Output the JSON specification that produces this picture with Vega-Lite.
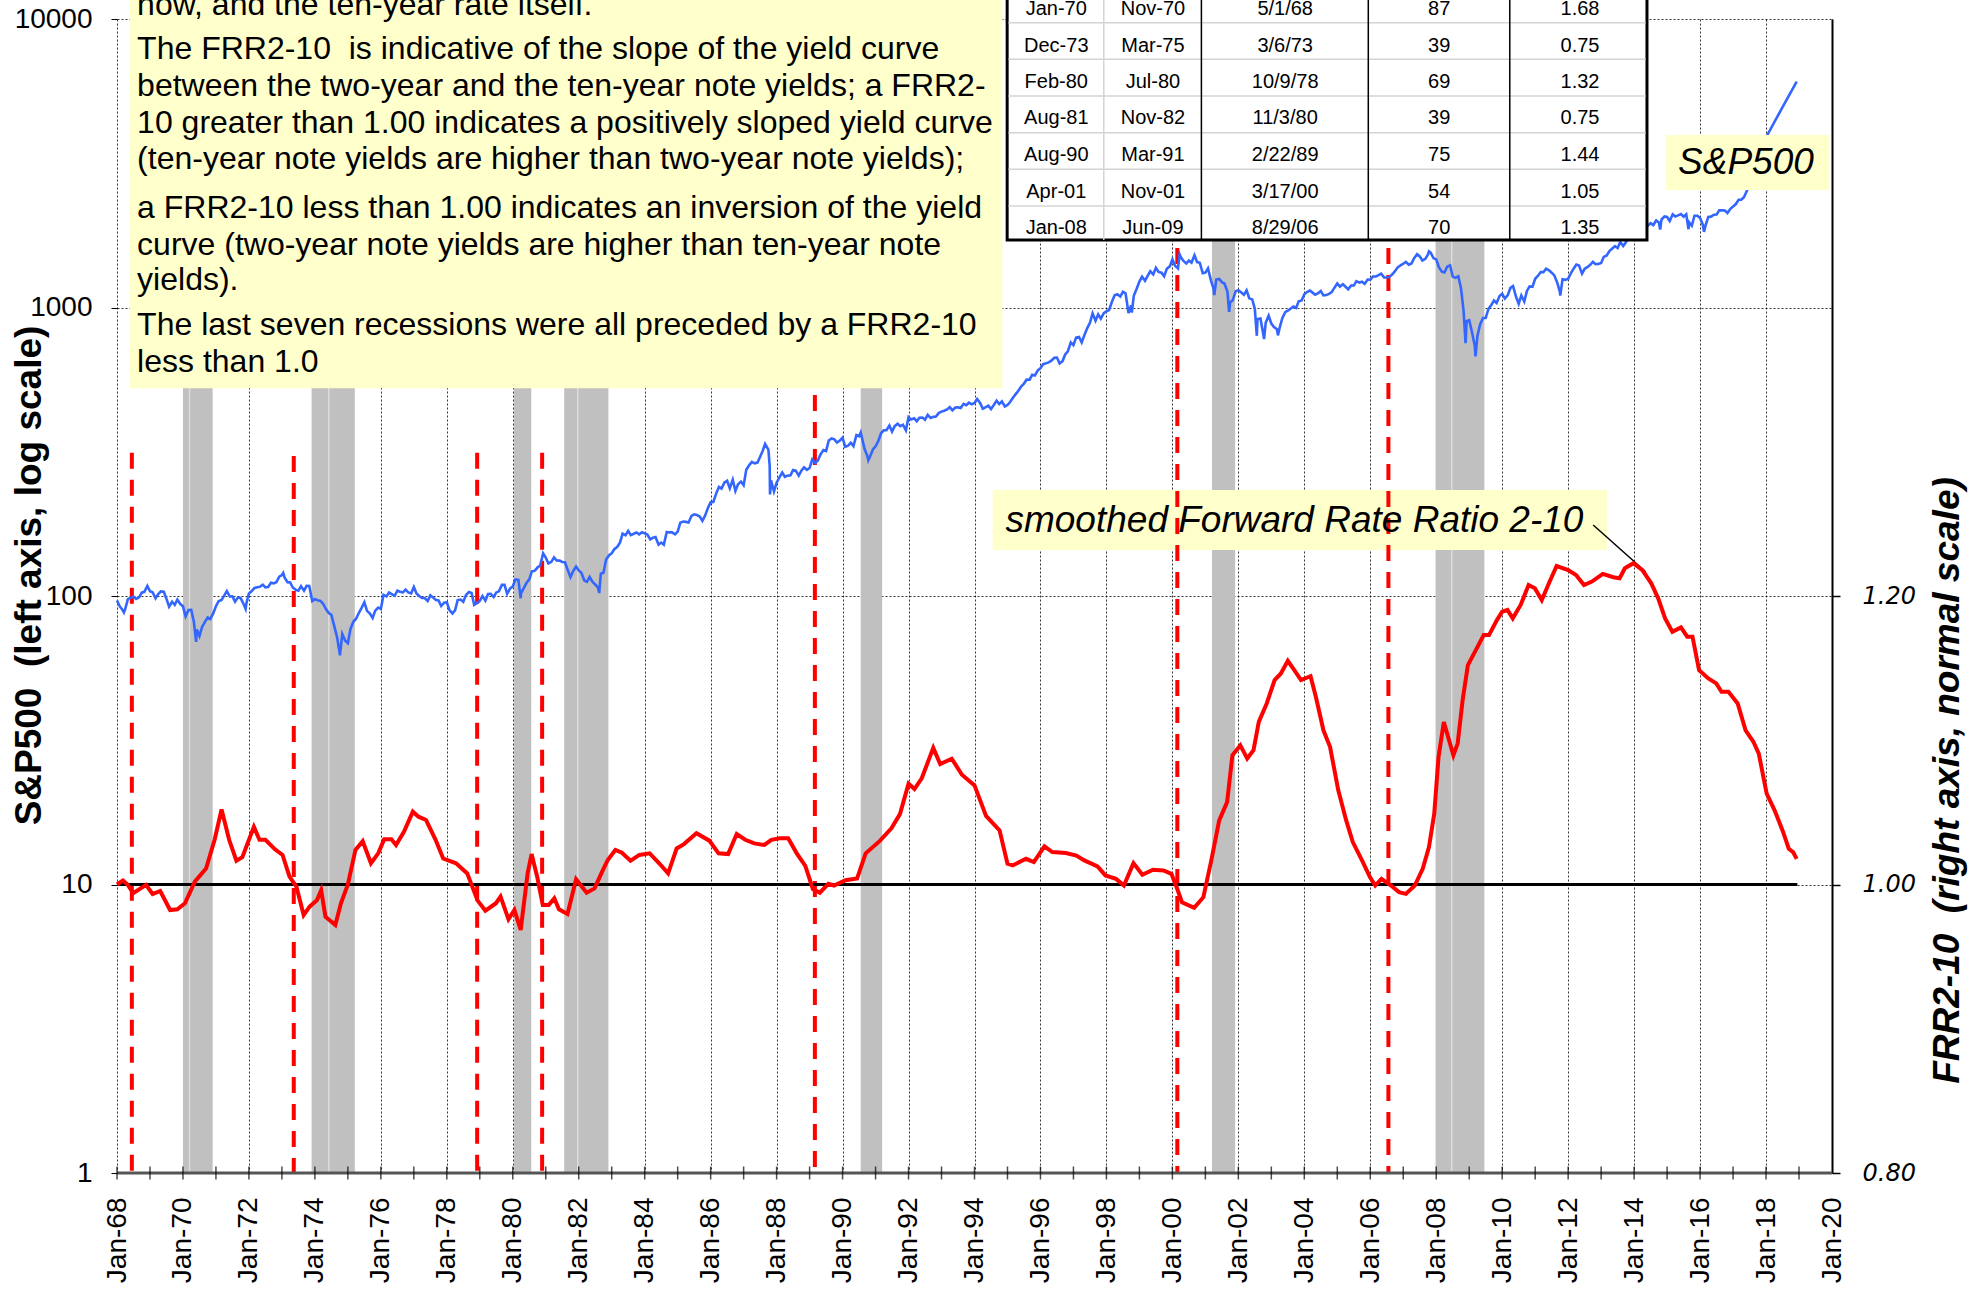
{
"$schema":"https://vega.github.io/schema/vega-lite/v6.json",
"width":1715,"height":1154,
"autosize":{"type":"none"},
"padding":{"left":117,"top":19,"right":148,"bottom":117},
"background":"#ffffff",
"config":{"view":{"stroke":null},"font":"Liberation Sans","axis":{"labelColor":"#000000","titleColor":"#000000"}},
"datasets":{
"bands":[{"s":1970.0,"e":1970.9},{"s":1973.9,"e":1975.21},{"s":1980.04,"e":1980.56},{"s":1981.56,"e":1982.9},{"s":1990.55,"e":1991.2},{"s":2001.2,"e":2001.9},{"s":2007.98,"e":2009.46}],
"splits":[{"t":1970.2},{"t":1974.42},{"t":1981.97},{"t":2008.47}],
"sig":[{"t":1968.45,"top":313.8},{"t":1973.36,"top":305.6},{"t":1978.92,"top":313.8},{"t":1980.89,"top":313.8},{"t":1989.16,"top":497.3},{"t":2000.15,"top":1608},{"t":2006.55,"top":1608}],
"years":[{"yr":1968},{"yr":1969},{"yr":1970},{"yr":1971},{"yr":1972},{"yr":1973},{"yr":1974},{"yr":1975},{"yr":1976},{"yr":1977},{"yr":1978},{"yr":1979},{"yr":1980},{"yr":1981},{"yr":1982},{"yr":1983},{"yr":1984},{"yr":1985},{"yr":1986},{"yr":1987},{"yr":1988},{"yr":1989},{"yr":1990},{"yr":1991},{"yr":1992},{"yr":1993},{"yr":1994},{"yr":1995},{"yr":1996},{"yr":1997},{"yr":1998},{"yr":1999},{"yr":2000},{"yr":2001},{"yr":2002},{"yr":2003},{"yr":2004},{"yr":2005},{"yr":2006},{"yr":2007},{"yr":2008},{"yr":2009},{"yr":2010},{"yr":2011},{"yr":2012},{"yr":2013},{"yr":2014},{"yr":2015},{"yr":2016},{"yr":2017},{"yr":2018},{"yr":2019}],
"note":[
{"y":11183,"s":"now, and the ten-year rate itself."},
{"y":7852,"s":"The FRR2-10\u00a0 is indicative of the slope of the yield curve"},
{"y":5860,"s":"between the two-year and the ten-year note yields; a FRR2-"},
{"y":4371,"s":"10 greater than 1.00 indicates a positively sloped yield curve"},
{"y":3263,"s":"(ten-year note yields are higher than two-year note yields);"},
{"y":2207,"s":"a FRR2-10 less than 1.00 indicates an inversion of the yield"},
{"y":1647,"s":"curve (two-year note yields are higher than ten-year note"},
{"y":1246,"s":"yields)."},
{"y":869.7,"s":"The last seven recessions were all preceded by a FRR2-10"},
{"y":649,"s":"less than 1.0"}],
"table":[
{"r":10805,"a":"Jan-70","b":"Nov-70","c":"5/1/68","d":"87","e":"1.68"},
{"r":8079,"a":"Dec-73","b":"Mar-75","c":"3/6/73","d":"39","e":"0.75"},
{"r":6062,"a":"Feb-80","b":"Jul-80","c":"10/9/78","d":"69","e":"1.32"},
{"r":4538,"a":"Aug-81","b":"Nov-82","c":"11/3/80","d":"39","e":"0.75"},
{"r":3378,"a":"Aug-90","b":"Mar-91","c":"2/22/89","d":"75","e":"1.44"},
{"r":2514,"a":"Apr-01","b":"Nov-01","c":"3/17/00","d":"54","e":"1.05"},
{"r":1886,"a":"Jan-08","b":"Jun-09","c":"8/29/06","d":"70","e":"1.35"}],
"hlines":[{"r":9710},{"r":7251},{"r":5410},{"r":4036},{"r":3013},{"r":2248}],
"vlines":[{"t":2000.88},{"t":2005.94},{"t":2010.23}],
"sp":[
{"t":1968.0,"v":96.5},{"t":1968.08,"v":92.2},{"t":1968.17,"v":89.4},{"t":1968.21,"v":87.7},{"t":1968.25,"v":90.2},{"t":1968.33,"v":97.6},{"t":1968.42,"v":98.7},{"t":1968.5,"v":99.6},{"t":1968.58,"v":97.7},{"t":1968.67,"v":98.9},{"t":1968.75,"v":102.7},{"t":1968.83,"v":103.4},{"t":1968.92,"v":108.4},
{"t":1969.0,"v":103.9},{"t":1969.08,"v":103.0},{"t":1969.17,"v":98.1},{"t":1969.25,"v":101.5},{"t":1969.33,"v":103.7},{"t":1969.42,"v":103.5},{"t":1969.5,"v":97.7},{"t":1969.58,"v":91.8},{"t":1969.67,"v":95.5},{"t":1969.75,"v":93.1},{"t":1969.83,"v":97.2},{"t":1969.92,"v":93.8},
{"t":1970.0,"v":92.1},{"t":1970.08,"v":85.0},{"t":1970.17,"v":89.5},{"t":1970.25,"v":89.6},{"t":1970.33,"v":81.5},{"t":1970.4,"v":69.3},{"t":1970.42,"v":76.6},{"t":1970.5,"v":72.7},{"t":1970.58,"v":78.1},{"t":1970.67,"v":81.5},{"t":1970.75,"v":84.2},{"t":1970.83,"v":83.3},{"t":1970.92,"v":87.2},
{"t":1971.0,"v":92.2},{"t":1971.08,"v":95.9},{"t":1971.17,"v":96.8},{"t":1971.25,"v":100.3},{"t":1971.33,"v":104.0},{"t":1971.42,"v":99.6},{"t":1971.5,"v":99.7},{"t":1971.58,"v":95.6},{"t":1971.67,"v":99.0},{"t":1971.75,"v":98.3},{"t":1971.83,"v":94.2},{"t":1971.9,"v":90.2},{"t":1971.92,"v":94.0},
{"t":1972.0,"v":102.1},{"t":1972.08,"v":103.9},{"t":1972.17,"v":106.6},{"t":1972.25,"v":107.2},{"t":1972.33,"v":107.7},{"t":1972.42,"v":109.5},{"t":1972.5,"v":107.1},{"t":1972.58,"v":107.4},{"t":1972.67,"v":111.1},{"t":1972.75,"v":110.6},{"t":1972.83,"v":111.6},{"t":1972.92,"v":116.7},
{"t":1973.0,"v":118.1},{"t":1973.04,"v":120.2},{"t":1973.08,"v":116.0},{"t":1973.17,"v":111.7},{"t":1973.25,"v":111.5},{"t":1973.33,"v":107.0},{"t":1973.42,"v":105.0},{"t":1973.5,"v":104.3},{"t":1973.58,"v":108.2},{"t":1973.67,"v":104.3},{"t":1973.75,"v":108.4},{"t":1973.83,"v":108.3},{"t":1973.92,"v":96.0},
{"t":1974.0,"v":97.6},{"t":1974.08,"v":96.6},{"t":1974.17,"v":96.2},{"t":1974.25,"v":94.0},{"t":1974.33,"v":90.3},{"t":1974.42,"v":87.3},{"t":1974.5,"v":86.0},{"t":1974.58,"v":79.3},{"t":1974.67,"v":72.2},{"t":1974.75,"v":63.5},{"t":1974.76,"v":62.3},{"t":1974.83,"v":73.9},{"t":1974.92,"v":70.0},
{"t":1975.0,"v":68.6},{"t":1975.08,"v":77.0},{"t":1975.17,"v":81.6},{"t":1975.25,"v":83.4},{"t":1975.33,"v":87.3},{"t":1975.42,"v":91.2},{"t":1975.5,"v":95.2},{"t":1975.58,"v":88.8},{"t":1975.67,"v":86.9},{"t":1975.75,"v":83.9},{"t":1975.83,"v":89.0},{"t":1975.92,"v":91.2},
{"t":1976.0,"v":90.2},{"t":1976.08,"v":100.9},{"t":1976.17,"v":99.7},{"t":1976.25,"v":102.8},{"t":1976.33,"v":101.6},{"t":1976.42,"v":100.2},{"t":1976.5,"v":104.3},{"t":1976.58,"v":103.4},{"t":1976.67,"v":102.9},{"t":1976.75,"v":105.2},{"t":1976.83,"v":102.9},{"t":1976.92,"v":102.1},
{"t":1977.0,"v":107.5},{"t":1977.08,"v":102.0},{"t":1977.17,"v":99.8},{"t":1977.25,"v":98.4},{"t":1977.33,"v":98.4},{"t":1977.42,"v":96.1},{"t":1977.5,"v":100.5},{"t":1977.58,"v":98.9},{"t":1977.67,"v":96.8},{"t":1977.75,"v":96.5},{"t":1977.83,"v":92.3},{"t":1977.92,"v":94.8},
{"t":1978.0,"v":95.1},{"t":1978.08,"v":89.3},{"t":1978.17,"v":87.0},{"t":1978.25,"v":89.2},{"t":1978.33,"v":96.8},{"t":1978.42,"v":97.2},{"t":1978.5,"v":95.5},{"t":1978.58,"v":100.7},{"t":1978.67,"v":103.3},{"t":1978.75,"v":102.5},{"t":1978.83,"v":93.2},{"t":1978.92,"v":94.7},
{"t":1979.0,"v":96.1},{"t":1979.08,"v":99.9},{"t":1979.17,"v":96.3},{"t":1979.25,"v":101.6},{"t":1979.33,"v":101.8},{"t":1979.42,"v":99.1},{"t":1979.5,"v":102.9},{"t":1979.58,"v":103.8},{"t":1979.67,"v":109.3},{"t":1979.75,"v":109.3},{"t":1979.83,"v":101.8},{"t":1979.92,"v":106.2},
{"t":1980.0,"v":107.9},{"t":1980.08,"v":114.2},{"t":1980.17,"v":113.7},{"t":1980.24,"v":98.2},{"t":1980.25,"v":102.1},{"t":1980.33,"v":106.3},{"t":1980.42,"v":111.2},{"t":1980.5,"v":114.2},{"t":1980.58,"v":121.7},{"t":1980.67,"v":122.4},{"t":1980.75,"v":125.5},{"t":1980.83,"v":127.5},{"t":1980.92,"v":140.5},
{"t":1981.0,"v":135.8},{"t":1981.08,"v":129.6},{"t":1981.17,"v":131.3},{"t":1981.25,"v":136.0},{"t":1981.33,"v":132.8},{"t":1981.42,"v":132.6},{"t":1981.5,"v":131.2},{"t":1981.58,"v":130.9},{"t":1981.67,"v":122.8},{"t":1981.75,"v":116.2},{"t":1981.83,"v":121.9},{"t":1981.92,"v":126.4},
{"t":1982.0,"v":122.6},{"t":1982.08,"v":120.4},{"t":1982.17,"v":113.1},{"t":1982.25,"v":112.0},{"t":1982.33,"v":116.4},{"t":1982.42,"v":111.9},{"t":1982.5,"v":109.6},{"t":1982.58,"v":107.1},{"t":1982.62,"v":102.4},{"t":1982.67,"v":119.5},{"t":1982.75,"v":120.4},{"t":1982.83,"v":133.7},{"t":1982.92,"v":138.5},
{"t":1983.0,"v":140.6},{"t":1983.08,"v":145.3},{"t":1983.17,"v":148.1},{"t":1983.25,"v":153.0},{"t":1983.33,"v":164.4},{"t":1983.42,"v":162.4},{"t":1983.5,"v":168.1},{"t":1983.58,"v":162.6},{"t":1983.67,"v":164.4},{"t":1983.75,"v":166.1},{"t":1983.83,"v":163.6},{"t":1983.92,"v":166.4},
{"t":1984.0,"v":164.9},{"t":1984.08,"v":163.4},{"t":1984.17,"v":157.1},{"t":1984.25,"v":159.2},{"t":1984.33,"v":160.1},{"t":1984.42,"v":150.6},{"t":1984.5,"v":153.2},{"t":1984.58,"v":150.7},{"t":1984.67,"v":166.7},{"t":1984.75,"v":166.1},{"t":1984.83,"v":166.1},{"t":1984.92,"v":163.6},
{"t":1985.0,"v":167.2},{"t":1985.08,"v":179.6},{"t":1985.17,"v":181.2},{"t":1985.25,"v":180.7},{"t":1985.33,"v":179.8},{"t":1985.42,"v":189.6},{"t":1985.5,"v":191.9},{"t":1985.58,"v":190.9},{"t":1985.67,"v":188.6},{"t":1985.75,"v":182.1},{"t":1985.83,"v":189.8},{"t":1985.92,"v":202.2},
{"t":1986.0,"v":211.3},{"t":1986.08,"v":211.8},{"t":1986.17,"v":226.9},{"t":1986.25,"v":238.9},{"t":1986.33,"v":235.5},{"t":1986.42,"v":247.4},{"t":1986.5,"v":250.8},{"t":1986.58,"v":236.1},{"t":1986.67,"v":252.9},{"t":1986.75,"v":231.3},{"t":1986.83,"v":244.0},{"t":1986.92,"v":249.2},
{"t":1987.0,"v":242.2},{"t":1987.08,"v":274.1},{"t":1987.17,"v":284.2},{"t":1987.25,"v":291.7},{"t":1987.33,"v":288.4},{"t":1987.42,"v":290.1},{"t":1987.5,"v":304.0},{"t":1987.58,"v":318.7},{"t":1987.65,"v":336.8},{"t":1987.75,"v":321.8},{"t":1987.79,"v":282.7},{"t":1987.8,"v":224.8},{"t":1987.83,"v":251.8},{"t":1987.92,"v":230.3},
{"t":1988.0,"v":247.1},{"t":1988.08,"v":257.1},{"t":1988.17,"v":267.8},{"t":1988.25,"v":258.9},{"t":1988.33,"v":261.3},{"t":1988.42,"v":262.2},{"t":1988.5,"v":273.5},{"t":1988.58,"v":272.0},{"t":1988.67,"v":261.5},{"t":1988.75,"v":271.9},{"t":1988.83,"v":279.0},{"t":1988.92,"v":273.7},
{"t":1989.0,"v":277.7},{"t":1989.08,"v":297.5},{"t":1989.17,"v":288.9},{"t":1989.25,"v":294.9},{"t":1989.33,"v":309.6},{"t":1989.42,"v":320.5},{"t":1989.5,"v":318.0},{"t":1989.58,"v":346.1},{"t":1989.67,"v":351.5},{"t":1989.75,"v":349.2},{"t":1989.83,"v":340.4},{"t":1989.92,"v":346.0},
{"t":1990.0,"v":353.4},{"t":1990.08,"v":329.1},{"t":1990.17,"v":331.9},{"t":1990.25,"v":339.9},{"t":1990.33,"v":330.8},{"t":1990.42,"v":361.2},{"t":1990.5,"v":358.0},{"t":1990.55,"v":368.9},{"t":1990.58,"v":356.2},{"t":1990.67,"v":322.6},{"t":1990.75,"v":306.1},{"t":1990.78,"v":295.5},{"t":1990.83,"v":304.0},{"t":1990.92,"v":322.2},
{"t":1991.0,"v":330.2},{"t":1991.08,"v":343.9},{"t":1991.17,"v":367.1},{"t":1991.25,"v":375.2},{"t":1991.33,"v":375.4},{"t":1991.42,"v":389.8},{"t":1991.5,"v":371.2},{"t":1991.58,"v":387.8},{"t":1991.67,"v":395.4},{"t":1991.75,"v":387.9},{"t":1991.83,"v":392.5},{"t":1991.92,"v":375.2},
{"t":1992.0,"v":417.1},{"t":1992.08,"v":408.8},{"t":1992.17,"v":412.7},{"t":1992.25,"v":403.7},{"t":1992.33,"v":415.0},{"t":1992.42,"v":415.4},{"t":1992.5,"v":408.1},{"t":1992.58,"v":424.2},{"t":1992.67,"v":414.0},{"t":1992.75,"v":417.8},{"t":1992.83,"v":418.7},{"t":1992.92,"v":431.4},
{"t":1993.0,"v":435.7},{"t":1993.08,"v":438.8},{"t":1993.17,"v":443.4},{"t":1993.25,"v":451.7},{"t":1993.33,"v":440.2},{"t":1993.42,"v":450.2},{"t":1993.5,"v":450.5},{"t":1993.58,"v":448.1},{"t":1993.67,"v":463.6},{"t":1993.75,"v":458.9},{"t":1993.83,"v":467.8},{"t":1993.92,"v":461.8},
{"t":1994.0,"v":466.5},{"t":1994.08,"v":481.6},{"t":1994.17,"v":467.1},{"t":1994.25,"v":445.8},{"t":1994.33,"v":450.9},{"t":1994.42,"v":456.5},{"t":1994.5,"v":444.3},{"t":1994.58,"v":458.3},{"t":1994.67,"v":475.5},{"t":1994.75,"v":462.7},{"t":1994.83,"v":472.4},{"t":1994.92,"v":453.7},
{"t":1995.0,"v":459.3},{"t":1995.08,"v":470.4},{"t":1995.17,"v":487.4},{"t":1995.25,"v":500.7},{"t":1995.33,"v":514.7},{"t":1995.42,"v":533.4},{"t":1995.5,"v":544.8},{"t":1995.58,"v":562.1},{"t":1995.67,"v":561.9},{"t":1995.75,"v":584.4},{"t":1995.83,"v":581.5},{"t":1995.92,"v":605.4},
{"t":1996.0,"v":615.9},{"t":1996.08,"v":636.0},{"t":1996.17,"v":640.4},{"t":1996.25,"v":645.5},{"t":1996.33,"v":654.2},{"t":1996.42,"v":669.1},{"t":1996.5,"v":670.6},{"t":1996.58,"v":640.0},{"t":1996.67,"v":652.0},{"t":1996.75,"v":687.3},{"t":1996.83,"v":705.3},{"t":1996.92,"v":757.0},
{"t":1997.0,"v":740.7},{"t":1997.08,"v":786.2},{"t":1997.17,"v":790.8},{"t":1997.25,"v":757.1},{"t":1997.33,"v":801.3},{"t":1997.42,"v":848.3},{"t":1997.5,"v":885.1},{"t":1997.58,"v":954.3},{"t":1997.67,"v":899.5},{"t":1997.75,"v":947.3},{"t":1997.83,"v":914.6},{"t":1997.92,"v":955.4},
{"t":1998.0,"v":970.4},{"t":1998.08,"v":980.3},{"t":1998.17,"v":1049.3},{"t":1998.25,"v":1101.8},{"t":1998.33,"v":1111.8},{"t":1998.42,"v":1090.8},{"t":1998.5,"v":1133.8},{"t":1998.58,"v":1120.7},{"t":1998.67,"v":957.3},{"t":1998.75,"v":1017.0},{"t":1998.77,"v":959.4},{"t":1998.83,"v":1098.7},{"t":1998.92,"v":1163.6},
{"t":1999.0,"v":1229.2},{"t":1999.08,"v":1279.6},{"t":1999.17,"v":1238.3},{"t":1999.25,"v":1286.4},{"t":1999.33,"v":1335.2},{"t":1999.42,"v":1301.8},{"t":1999.5,"v":1372.7},{"t":1999.58,"v":1328.7},{"t":1999.67,"v":1320.4},{"t":1999.75,"v":1282.7},{"t":1999.83,"v":1362.9},{"t":1999.92,"v":1388.9},
{"t":2000.0,"v":1469.3},{"t":2000.08,"v":1394.5},{"t":2000.17,"v":1366.4},{"t":2000.22,"v":1527.5},{"t":2000.25,"v":1498.6},{"t":2000.33,"v":1452.4},{"t":2000.42,"v":1420.6},{"t":2000.5,"v":1454.6},{"t":2000.58,"v":1430.8},{"t":2000.67,"v":1517.7},{"t":2000.75,"v":1436.5},{"t":2000.83,"v":1429.4},{"t":2000.92,"v":1315.0},
{"t":2001.0,"v":1320.3},{"t":2001.08,"v":1366.0},{"t":2001.17,"v":1239.9},{"t":2001.25,"v":1160.3},{"t":2001.27,"v":1103.3},{"t":2001.33,"v":1249.5},{"t":2001.42,"v":1255.8},{"t":2001.5,"v":1224.4},{"t":2001.58,"v":1211.2},{"t":2001.67,"v":1133.6},{"t":2001.72,"v":965.8},{"t":2001.75,"v":1040.9},{"t":2001.83,"v":1059.8},{"t":2001.92,"v":1139.5},
{"t":2002.0,"v":1148.1},{"t":2002.08,"v":1130.2},{"t":2002.17,"v":1106.7},{"t":2002.25,"v":1147.4},{"t":2002.33,"v":1076.9},{"t":2002.42,"v":1067.1},{"t":2002.5,"v":989.8},{"t":2002.56,"v":797.7},{"t":2002.58,"v":911.6},{"t":2002.67,"v":916.1},{"t":2002.75,"v":815.3},{"t":2002.78,"v":776.8},{"t":2002.83,"v":885.8},{"t":2002.92,"v":936.3},
{"t":2003.0,"v":879.8},{"t":2003.08,"v":855.7},{"t":2003.17,"v":841.2},{"t":2003.2,"v":800.7},{"t":2003.25,"v":848.2},{"t":2003.33,"v":916.9},{"t":2003.42,"v":963.6},{"t":2003.5,"v":974.5},{"t":2003.58,"v":990.3},{"t":2003.67,"v":1008.0},{"t":2003.75,"v":996.0},{"t":2003.83,"v":1050.7},{"t":2003.92,"v":1058.2},
{"t":2004.0,"v":1111.9},{"t":2004.08,"v":1131.1},{"t":2004.17,"v":1144.9},{"t":2004.25,"v":1126.2},{"t":2004.33,"v":1107.3},{"t":2004.42,"v":1120.7},{"t":2004.5,"v":1140.8},{"t":2004.58,"v":1101.7},{"t":2004.67,"v":1104.2},{"t":2004.75,"v":1114.6},{"t":2004.83,"v":1130.2},{"t":2004.92,"v":1173.8},
{"t":2005.0,"v":1211.9},{"t":2005.08,"v":1181.3},{"t":2005.17,"v":1203.6},{"t":2005.25,"v":1180.6},{"t":2005.33,"v":1156.9},{"t":2005.42,"v":1191.5},{"t":2005.5,"v":1191.3},{"t":2005.58,"v":1234.2},{"t":2005.67,"v":1220.3},{"t":2005.75,"v":1228.8},{"t":2005.83,"v":1207.0},{"t":2005.92,"v":1249.5},
{"t":2006.0,"v":1248.3},{"t":2006.08,"v":1280.1},{"t":2006.17,"v":1280.7},{"t":2006.25,"v":1294.9},{"t":2006.33,"v":1310.6},{"t":2006.42,"v":1270.1},{"t":2006.5,"v":1270.2},{"t":2006.58,"v":1276.7},{"t":2006.67,"v":1303.8},{"t":2006.75,"v":1335.9},{"t":2006.83,"v":1377.9},{"t":2006.92,"v":1400.6},
{"t":2007.0,"v":1418.3},{"t":2007.08,"v":1438.2},{"t":2007.17,"v":1406.8},{"t":2007.25,"v":1420.9},{"t":2007.33,"v":1482.4},{"t":2007.42,"v":1530.6},{"t":2007.5,"v":1503.4},{"t":2007.58,"v":1455.3},{"t":2007.67,"v":1474.0},{"t":2007.75,"v":1526.8},{"t":2007.78,"v":1565.2},{"t":2007.83,"v":1549.4},{"t":2007.92,"v":1481.1},
{"t":2008.0,"v":1468.4},{"t":2008.08,"v":1378.6},{"t":2008.17,"v":1330.6},{"t":2008.25,"v":1322.7},{"t":2008.33,"v":1385.6},{"t":2008.42,"v":1400.4},{"t":2008.5,"v":1280.0},{"t":2008.58,"v":1267.4},{"t":2008.67,"v":1282.8},{"t":2008.75,"v":1166.4},{"t":2008.83,"v":968.8},{"t":2008.89,"v":752.4},{"t":2008.92,"v":896.2},
{"t":2009.0,"v":903.3},{"t":2009.08,"v":825.9},{"t":2009.17,"v":735.1},{"t":2009.19,"v":676.5},{"t":2009.25,"v":797.9},{"t":2009.33,"v":872.8},{"t":2009.42,"v":919.1},{"t":2009.5,"v":919.3},{"t":2009.58,"v":987.5},{"t":2009.67,"v":1020.6},{"t":2009.75,"v":1057.1},{"t":2009.83,"v":1036.2},{"t":2009.92,"v":1095.6},
{"t":2010.0,"v":1115.1},{"t":2010.08,"v":1073.9},{"t":2010.17,"v":1104.5},{"t":2010.25,"v":1169.4},{"t":2010.33,"v":1186.7},{"t":2010.42,"v":1089.4},{"t":2010.5,"v":1030.7},{"t":2010.58,"v":1101.6},{"t":2010.67,"v":1049.3},{"t":2010.75,"v":1141.2},{"t":2010.83,"v":1183.3},{"t":2010.92,"v":1180.6},
{"t":2011.0,"v":1257.6},{"t":2011.08,"v":1286.1},{"t":2011.17,"v":1327.2},{"t":2011.25,"v":1325.8},{"t":2011.33,"v":1363.6},{"t":2011.42,"v":1345.2},{"t":2011.5,"v":1320.6},{"t":2011.58,"v":1292.3},{"t":2011.67,"v":1218.9},{"t":2011.75,"v":1131.4},{"t":2011.76,"v":1099.2},{"t":2011.83,"v":1253.3},{"t":2011.92,"v":1247.0},
{"t":2012.0,"v":1257.6},{"t":2012.08,"v":1312.4},{"t":2012.17,"v":1365.7},{"t":2012.25,"v":1408.5},{"t":2012.33,"v":1397.9},{"t":2012.42,"v":1310.3},{"t":2012.5,"v":1362.2},{"t":2012.58,"v":1379.3},{"t":2012.67,"v":1406.6},{"t":2012.75,"v":1440.7},{"t":2012.83,"v":1412.2},{"t":2012.92,"v":1416.2},
{"t":2013.0,"v":1426.2},{"t":2013.08,"v":1498.1},{"t":2013.17,"v":1514.7},{"t":2013.25,"v":1569.2},{"t":2013.33,"v":1597.6},{"t":2013.42,"v":1630.7},{"t":2013.5,"v":1606.3},{"t":2013.58,"v":1685.7},{"t":2013.67,"v":1633.0},{"t":2013.75,"v":1681.6},{"t":2013.83,"v":1756.5},{"t":2013.92,"v":1805.8},
{"t":2014.0,"v":1848.4},{"t":2014.08,"v":1782.6},{"t":2014.17,"v":1859.5},{"t":2014.25,"v":1872.3},{"t":2014.33,"v":1884.0},{"t":2014.42,"v":1923.6},{"t":2014.5,"v":1960.2},{"t":2014.58,"v":1930.7},{"t":2014.67,"v":2003.4},{"t":2014.75,"v":1972.3},{"t":2014.79,"v":1862.5},{"t":2014.83,"v":2018.1},{"t":2014.92,"v":2067.6},
{"t":2015.0,"v":2058.9},{"t":2015.08,"v":1995.0},{"t":2015.17,"v":2104.5},{"t":2015.25,"v":2067.9},{"t":2015.33,"v":2085.5},{"t":2015.42,"v":2107.4},{"t":2015.5,"v":2063.1},{"t":2015.58,"v":2103.8},{"t":2015.65,"v":1867.6},{"t":2015.67,"v":1972.2},{"t":2015.75,"v":1920.0},{"t":2015.83,"v":2079.4},{"t":2015.92,"v":2080.4},
{"t":2016.0,"v":2043.9},{"t":2016.08,"v":1940.2},{"t":2016.12,"v":1829.1},{"t":2016.17,"v":1932.2},{"t":2016.25,"v":2059.7},{"t":2016.33,"v":2065.3},{"t":2016.42,"v":2097.0},{"t":2016.5,"v":2098.9},{"t":2016.58,"v":2173.6},{"t":2016.67,"v":2171.0},{"t":2016.75,"v":2168.3},{"t":2016.83,"v":2126.2},{"t":2016.92,"v":2198.8},
{"t":2017.0,"v":2238.8},{"t":2017.08,"v":2278.9},{"t":2017.17,"v":2363.6},{"t":2017.25,"v":2362.7},{"t":2017.33,"v":2410.0},{"t":2017.43,"v":2555},{"t":2017.7,"v":3150},{"t":2018.04,"v":3963},{"t":2018.5,"v":4950},{"t":2018.93,"v":6063}],
"frr":[
{"t":1968.0,"f":1.0},{"t":1968.18,"f":1.0027},{"t":1968.32,"f":1.0},{"t":1968.49,"f":0.9939},{"t":1968.88,"f":0.9997},{"t":1969.08,"f":0.9934},{"t":1969.31,"f":0.9955},{"t":1969.61,"f":0.9823},{"t":1969.83,"f":0.9828},{"t":1970.06,"f":0.987},{"t":1970.36,"f":1.002},{"t":1970.7,"f":1.011},{"t":1970.96,"f":1.031},{"t":1971.17,"f":1.052},{"t":1971.4,"f":1.031},{"t":1971.62,"f":1.0165},{"t":1971.8,"f":1.019},{"t":1972.15,"f":1.04},{"t":1972.32,"f":1.031},{"t":1972.5,"f":1.031},{"t":1972.79,"f":1.0244},{"t":1973.02,"f":1.0205},{"t":1973.23,"f":1.0054},{"t":1973.44,"f":0.9985},{"t":1973.66,"f":0.9788},{"t":1973.84,"f":0.9846},{"t":1974.06,"f":0.989},{"t":1974.19,"f":0.996},{"t":1974.32,"f":0.9777},{"t":1974.62,"f":0.9719},{"t":1974.79,"f":0.987},{"t":1975.0,"f":1.0},{"t":1975.23,"f":1.024},{"t":1975.45,"f":1.03},{"t":1975.7,"f":1.0147},{"t":1975.92,"f":1.0216},{"t":1976.1,"f":1.0313},{"t":1976.32,"f":1.0313},{"t":1976.46,"f":1.0274},{"t":1976.7,"f":1.0366},{"t":1976.97,"f":1.0505},{"t":1977.14,"f":1.047},{"t":1977.37,"f":1.0447},{"t":1977.66,"f":1.031},{"t":1977.89,"f":1.018},{"t":1978.28,"f":1.0147},{"t":1978.62,"f":1.0077},{"t":1978.93,"f":0.989},{"t":1979.17,"f":0.9818},{"t":1979.49,"f":0.987},{"t":1979.63,"f":0.9916},{"t":1979.87,"f":0.9759},{"t":1980.05,"f":0.9823},{"t":1980.24,"f":0.9685},{"t":1980.45,"f":1.0077},{"t":1980.57,"f":1.0211},{"t":1980.74,"f":1.0054},{"t":1980.91,"f":0.9858},{"t":1981.09,"f":0.9858},{"t":1981.26,"f":0.9904},{"t":1981.4,"f":0.9828},{"t":1981.66,"f":0.9795},{"t":1981.92,"f":1.0036},{"t":1982.24,"f":0.9943},{"t":1982.48,"f":0.9973},{"t":1982.71,"f":1.0089},{"t":1982.88,"f":1.017},{"t":1983.11,"f":1.0239},{"t":1983.31,"f":1.022},{"t":1983.57,"f":1.0165},{"t":1983.84,"f":1.0205},{"t":1984.15,"f":1.0216},{"t":1984.44,"f":1.0147},{"t":1984.71,"f":1.0077},{"t":1984.97,"f":1.025},{"t":1985.19,"f":1.028},{"t":1985.57,"f":1.0355},{"t":1985.96,"f":1.0304},{"t":1986.24,"f":1.0216},{"t":1986.53,"f":1.0211},{"t":1986.79,"f":1.035},{"t":1987.05,"f":1.031},{"t":1987.32,"f":1.0285},{"t":1987.63,"f":1.0274},{"t":1987.84,"f":1.031},{"t":1988.1,"f":1.032},{"t":1988.35,"f":1.032},{"t":1988.61,"f":1.0216},{"t":1988.87,"f":1.0129},{"t":1989.1,"f":0.9968},{"t":1989.31,"f":0.9943},{"t":1989.57,"f":1.0005},{"t":1989.74,"f":0.9993},{"t":1990.09,"f":1.003},{"t":1990.44,"f":1.0042},{"t":1990.7,"f":1.0216},{"t":1991.13,"f":1.0302},{"t":1991.48,"f":1.0389},{"t":1991.74,"f":1.0488},{"t":1992.0,"f":1.0699},{"t":1992.18,"f":1.0662},{"t":1992.4,"f":1.0736},{"t":1992.75,"f":1.0947},{"t":1992.96,"f":1.0835},{"t":1993.31,"f":1.0872},{"t":1993.62,"f":1.0761},{"t":1994.0,"f":1.0687},{"t":1994.35,"f":1.0476},{"t":1994.76,"f":1.0375},{"t":1995.0,"f":1.0144},{"t":1995.16,"f":1.0132},{"t":1995.56,"f":1.0178},{"t":1995.8,"f":1.0155},{"t":1996.12,"f":1.0264},{"t":1996.36,"f":1.0225},{"t":1996.77,"f":1.0218},{"t":1997.09,"f":1.0201},{"t":1997.33,"f":1.0167},{"t":1997.73,"f":1.0125},{"t":1997.97,"f":1.0063},{"t":1998.29,"f":1.0039},{"t":1998.53,"f":0.9993},{"t":1998.82,"f":1.0148},{"t":1999.09,"f":1.0067},{"t":1999.41,"f":1.0102},{"t":1999.73,"f":1.0097},{"t":1999.97,"f":1.0074},{"t":2000.13,"f":0.9981},{"t":2000.29,"f":0.9877},{"t":2000.66,"f":0.9838},{"t":2000.94,"f":0.9912},{"t":2001.18,"f":1.0167},{"t":2001.42,"f":1.0444},{"t":2001.66,"f":1.0572},{"t":2001.82,"f":1.0896},{"t":2002.06,"f":1.0965},{"t":2002.27,"f":1.0873},{"t":2002.46,"f":1.0931},{"t":2002.62,"f":1.1127},{"t":2002.86,"f":1.1255},{"t":2003.1,"f":1.1417},{"t":2003.29,"f":1.1463},{"t":2003.5,"f":1.1551},{"t":2003.66,"f":1.1498},{"t":2003.9,"f":1.1417},{"t":2004.19,"f":1.1444},{"t":2004.35,"f":1.1301},{"t":2004.58,"f":1.1069},{"t":2004.78,"f":1.0954},{"t":2005.03,"f":1.0653},{"t":2005.27,"f":1.0444},{"t":2005.47,"f":1.0294},{"t":2005.75,"f":1.0167},{"t":2005.99,"f":1.0051},{"t":2006.15,"f":0.9993},{"t":2006.34,"f":1.0039},{"t":2006.63,"f":0.9993},{"t":2006.87,"f":0.9947},{"t":2007.08,"f":0.9935},{"t":2007.35,"f":0.9993},{"t":2007.59,"f":1.0109},{"t":2007.78,"f":1.0259},{"t":2007.94,"f":1.0491},{"t":2008.07,"f":1.0884},{"t":2008.23,"f":1.1127},{"t":2008.39,"f":1.1},{"t":2008.52,"f":1.0896},{"t":2008.65,"f":1.0977},{"t":2008.8,"f":1.1278},{"t":2008.96,"f":1.1521},{"t":2009.2,"f":1.1625},{"t":2009.44,"f":1.1729},{"t":2009.6,"f":1.1729},{"t":2009.84,"f":1.1833},{"t":2010.0,"f":1.1891},{"t":2010.16,"f":1.1903},{"t":2010.32,"f":1.1845},{"t":2010.56,"f":1.1938},{"t":2010.8,"f":1.2076},{"t":2010.99,"f":1.2053},{"t":2011.2,"f":1.1972},{"t":2011.44,"f":1.21},{"t":2011.65,"f":1.2208},{"t":2012.0,"f":1.218},{"t":2012.24,"f":1.2146},{"t":2012.48,"f":1.2076},{"t":2012.72,"f":1.21},{"t":2013.05,"f":1.2153},{"t":2013.37,"f":1.213},{"t":2013.56,"f":1.2123},{"t":2013.72,"f":1.2192},{"t":2013.98,"f":1.2227},{"t":2014.25,"f":1.218},{"t":2014.52,"f":1.2088},{"t":2014.73,"f":1.1984},{"t":2014.94,"f":1.1845},{"t":2015.16,"f":1.1752},{"t":2015.42,"f":1.1782},{"t":2015.61,"f":1.1718},{"t":2015.77,"f":1.1718},{"t":2015.97,"f":1.1486},{"t":2016.25,"f":1.1428},{"t":2016.49,"f":1.1394},{"t":2016.65,"f":1.1336},{"t":2016.86,"f":1.1336},{"t":2017.14,"f":1.1255},{"t":2017.38,"f":1.1069},{"t":2017.62,"f":1.0988},{"t":2017.78,"f":1.0907},{"t":2018.02,"f":1.063},{"t":2018.26,"f":1.0514},{"t":2018.5,"f":1.0375},{"t":2018.69,"f":1.0248},{"t":2018.82,"f":1.0225},{"t":2018.93,"f":1.0178}]
},
"resolve":{"scale":{"y":"independent"}},
"layer":[
{"layer":[
{"data":{"name":"bands"},"mark":{"type":"rect","color":"#c0c0c0"},
 "encoding":{"x":{"field":"s","type":"quantitative","scale":{"domain":[1968,2020],"nice":false,"zero":false},
  "axis":{"values":[1968,1970,1972,1974,1976,1978,1980,1982,1984,1986,1988,1990,1992,1994,1996,1998,2000,2002,2004,2006,2008,2010,2012,2014,2016,2018,2020],"labelExpr":"'Jan-' + slice(toString(datum.value), 2)","labelAngle":-90,"labelFontSize":28,"labelFont":"Liberation Sans","labelPadding":24,"labelFlush":false,"labelOverlap":false,"ticks":false,"domain":false,"grid":true,"gridColor":"#000000","gridDash":[2,2],"gridWidth":1,"gridOpacity":0.8,"title":null}},
  "x2":{"field":"e"}}},
{"data":{"name":"splits"},"mark":{"type":"rule","color":"#dcdcdc","strokeWidth":1.5},
 "encoding":{"x":{"field":"t","type":"quantitative"}}},
{"data":{"values":[{}]},"mark":{"type":"rect","color":"#ffffcc"},
 "encoding":{"x":{"datum":1994.55,"type":"quantitative"},"x2":{"datum":2013.18},
  "y":{"datum":144.3,"type":"quantitative","scale":{"type":"log","domain":[1,10000],"nice":false}},"y2":{"datum":233}}},
{"data":{"name":"sig"},"mark":{"type":"rule","color":"#ff0000","strokeWidth":4,"strokeDash":[16,11]},
 "encoding":{"x":{"field":"t","type":"quantitative"},
  "y":{"field":"top","type":"quantitative","scale":{"type":"log","domain":[1,10000],"nice":false}},"y2":{"datum":1}}},
{"data":{"name":"sp"},"mark":{"type":"line","color":"#3366ff","strokeWidth":2.6},
 "encoding":{"x":{"field":"t","type":"quantitative"},
  "y":{"field":"v","type":"quantitative","scale":{"type":"log","domain":[1,10000],"nice":false},
   "axis":{"orient":"left","values":[1,10,100,1000,10000],"format":"d","labelFontSize":28,"labelFont":"Liberation Sans","labelPadding":19,"tickSize":6,"tickColor":"#000000","domain":false,"grid":true,"gridColor":"#000000","gridDash":[2,2],"gridWidth":1,"gridOpacity":0.8,"title":"S&P500\u00a0 (left axis, log scale)","titleFont":"Liberation Sans","titleFontSize":37,"titleFontWeight":"bold","titleAngle":-90,"titleBaseline":"middle","titleAlign":"center","titleX":-88,"titleY":556}}}},
{"data":{"values":[{}]},"mark":{"type":"rect","color":"#ffffcc"},
 "encoding":{"x":{"datum":1968.39,"type":"quantitative"},"x2":{"datum":1994.85},
  "y":{"datum":524.8,"type":"quantitative","scale":{"type":"log","domain":[1,10000],"nice":false}},"y2":{"datum":100000}}},
{"data":{"name":"note"},"mark":{"type":"text","align":"left","baseline":"middle","fontSize":32,"font":"Liberation Sans","color":"#000000"},
 "encoding":{"x":{"datum":1968.61,"type":"quantitative"},
  "y":{"field":"y","type":"quantitative","scale":{"type":"log","domain":[1,10000],"nice":false}},"text":{"field":"s"}}},
{"data":{"values":[{}]},"mark":{"type":"rect","fill":"#ffffff","stroke":"#000000","strokeWidth":3},
 "encoding":{"x":{"datum":1994.99,"type":"quantitative"},"x2":{"datum":2014.39},
  "y":{"datum":1714,"type":"quantitative","scale":{"type":"log","domain":[1,10000],"nice":false}},"y2":{"datum":100000}}},
{"data":{"name":"hlines"},"mark":{"type":"rule","color":"#d4d4d4","strokeWidth":1.5},
 "encoding":{"x":{"datum":1995.03,"type":"quantitative"},"x2":{"datum":2014.35},
  "y":{"field":"r","type":"quantitative","scale":{"type":"log","domain":[1,10000],"nice":false}}}},
{"data":{"values":[{}]},"mark":{"type":"rule","color":"#d4d4d4","strokeWidth":1.5},
 "encoding":{"x":{"datum":1997.92,"type":"quantitative"},
  "y":{"datum":1714,"type":"quantitative","scale":{"type":"log","domain":[1,10000],"nice":false}},"y2":{"datum":100000}}},
{"data":{"name":"vlines"},"mark":{"type":"rule","color":"#000000","strokeWidth":1.5},
 "encoding":{"x":{"field":"t","type":"quantitative"},
  "y":{"datum":1714,"type":"quantitative","scale":{"type":"log","domain":[1,10000],"nice":false}},"y2":{"datum":100000}}},
{"data":{"name":"table"},"mark":{"type":"text","align":"center","baseline":"middle","fontSize":20,"font":"Liberation Sans","color":"#000000"},
 "encoding":{"x":{"datum":1996.48,"type":"quantitative"},
  "y":{"field":"r","type":"quantitative","scale":{"type":"log","domain":[1,10000],"nice":false}},"text":{"field":"a"}}},
{"data":{"name":"table"},"mark":{"type":"text","align":"center","baseline":"middle","fontSize":20,"font":"Liberation Sans","color":"#000000"},
 "encoding":{"x":{"datum":1999.41,"type":"quantitative"},
  "y":{"field":"r","type":"quantitative","scale":{"type":"log","domain":[1,10000],"nice":false}},"text":{"field":"b"}}},
{"data":{"name":"table"},"mark":{"type":"text","align":"center","baseline":"middle","fontSize":20,"font":"Liberation Sans","color":"#000000"},
 "encoding":{"x":{"datum":2003.42,"type":"quantitative"},
  "y":{"field":"r","type":"quantitative","scale":{"type":"log","domain":[1,10000],"nice":false}},"text":{"field":"c"}}},
{"data":{"name":"table"},"mark":{"type":"text","align":"center","baseline":"middle","fontSize":20,"font":"Liberation Sans","color":"#000000"},
 "encoding":{"x":{"datum":2008.09,"type":"quantitative"},
  "y":{"field":"r","type":"quantitative","scale":{"type":"log","domain":[1,10000],"nice":false}},"text":{"field":"d"}}},
{"data":{"name":"table"},"mark":{"type":"text","align":"center","baseline":"middle","fontSize":20,"font":"Liberation Sans","color":"#000000"},
 "encoding":{"x":{"datum":2012.36,"type":"quantitative"},
  "y":{"field":"r","type":"quantitative","scale":{"type":"log","domain":[1,10000],"nice":false}},"text":{"field":"e"}}},
{"data":{"values":[{}]},"mark":{"type":"rect","color":"#ffffcc"},
 "encoding":{"x":{"datum":2014.96,"type":"quantitative"},"x2":{"datum":2019.91},
  "y":{"datum":2555,"type":"quantitative","scale":{"type":"log","domain":[1,10000],"nice":false}},"y2":{"datum":3963}}},
{"data":{"values":[{}]},"mark":{"type":"text","text":"S&P500","align":"center","baseline":"middle","fontSize":37,"fontStyle":"italic","font":"Liberation Sans","color":"#000000"},
 "encoding":{"x":{"datum":2017.39,"type":"quantitative"},
  "y":{"datum":3169,"type":"quantitative","scale":{"type":"log","domain":[1,10000],"nice":false}}}},
{"data":{"values":[{}]},"mark":{"type":"text","text":"smoothed Forward Rate Ratio 2-10","align":"center","baseline":"middle","fontSize":37,"fontStyle":"italic","font":"Liberation Sans","color":"#000000"},
 "encoding":{"x":{"datum":2003.7,"type":"quantitative"},
  "y":{"datum":182,"type":"quantitative","scale":{"type":"log","domain":[1,10000],"nice":false}}}},
{"data":{"values":[{}]},"mark":{"type":"rule","color":"#000000","strokeWidth":1.5},
 "encoding":{"x":{"datum":2012.76,"type":"quantitative"},"x2":{"datum":2014.35},
  "y":{"datum":176.2,"type":"quantitative","scale":{"type":"log","domain":[1,10000],"nice":false}},"y2":{"datum":121.4}}},
{"data":{"values":[{}]},"mark":{"type":"rule","color":"#555555","strokeWidth":3},
 "encoding":{"x":{"datum":1968,"type":"quantitative"},"x2":{"datum":2020},
  "y":{"datum":1,"type":"quantitative","scale":{"type":"log","domain":[1,10000],"nice":false}}}},
{"data":{"name":"years"},"mark":{"type":"tick","orient":"vertical","size":13,"thickness":1.5,"color":"#000000"},
 "encoding":{"x":{"field":"yr","type":"quantitative"},
  "y":{"datum":1,"type":"quantitative","scale":{"type":"log","domain":[1,10000],"nice":false}}}}
]},
{"layer":[
{"data":{"values":[{}]},"mark":{"type":"rule","color":"#000000","strokeWidth":3},
 "encoding":{"x":{"datum":1968,"type":"quantitative"},"x2":{"datum":2018.95},
  "y":{"datum":1.0,"type":"quantitative","scale":{"domain":[0.8,1.6],"nice":false,"zero":false}}}},
{"data":{"name":"frr"},"mark":{"type":"line","color":"#ff0000","strokeWidth":4},
 "encoding":{"x":{"field":"t","type":"quantitative"},
  "y":{"field":"f","type":"quantitative","scale":{"domain":[0.8,1.6],"nice":false,"zero":false},
   "axis":{"orient":"right","values":[0.8,1.0,1.2],"format":".2f","labelFont":"DejaVu Sans","labelFontStyle":"italic","labelFontSize":24,"labelPadding":22,"tickSize":8,"tickWidth":1.5,"tickColor":"#000000","domain":true,"domainColor":"#000000","domainWidth":2,"grid":false,"title":"FRR2-10\u00a0 (right axis, normal scale)","titleFont":"Liberation Sans","titleFontSize":37,"titleFontWeight":"bold","titleFontStyle":"italic","titleAngle":-90,"titleBaseline":"middle","titleAlign":"center","titleX":115,"titleY":761}}}}
]}
]
}
